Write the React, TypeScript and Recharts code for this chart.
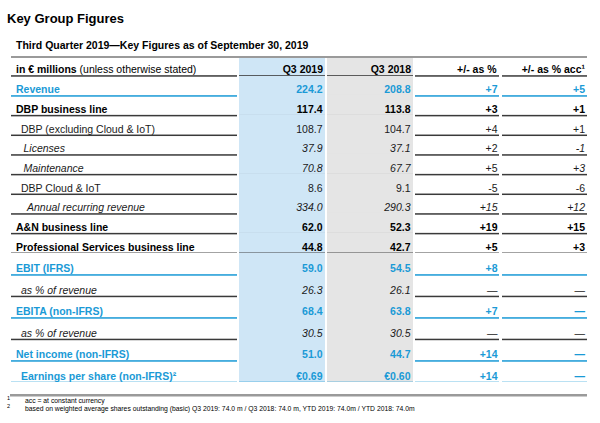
import React from "react";
import { BarChart, Bar, XAxis, YAxis } from "recharts";

// ---------- data ----------
const rowLabels = [
  "Revenue",
  "DBP business line",
  "DBP (excluding Cloud & IoT)",
  "Licenses",
  "Maintenance",
  "DBP Cloud & IoT",
  "Annual recurring revenue",
  "A&N business line",
  "Professional Services business line",
  "EBIT (IFRS)",
  "as % of revenue",
  "EBITA (non-IFRS)",
  "as % of revenue",
  "Net income (non-IFRS)",
  "Earnings per share (non-IFRS)²",
];
const q3_2019 = [224.2, 117.4, 108.7, 37.9, 70.8, 8.6, 334.0, 62.0, 44.8, 59.0, 26.3, 68.4, 30.5, 51.0, 0.69];
const q3_2018 = [208.8, 113.8, 104.7, 37.1, 67.7, 9.1, 290.3, 52.3, 42.7, 54.5, 26.1, 63.8, 30.5, 44.7, 0.6];
// null = "—" (not meaningful), "" = blank
const changePct = [7, 3, 4, 2, 5, -5, 15, 19, 5, 8, null, 7, null, 14, 14];
const changeAcc = [5, 1, 1, -1, 3, -6, 12, 15, 3, "", null, null, null, null, null];
const rowKinds = ["key", "line", "sub", "detail", "detail", "sub", "detail", "line", "line", "key", "detail", "key", "detail", "key", "key"];
const rowLevels = [0, 0, 1, 2, 2, 1, 3, 0, 0, 0, 1, 0, 1, 0, 1];
const rowUnits = ["m", "m", "m", "m", "m", "m", "m", "m", "m", "m", "%", "m", "%", "m", "€"];
const columnTitles = ["Q3 2019", "Q3 2018", "+/- as %", "+/- as % acc¹"];
const titleText = "Key Group Figures";
const subtitleText = "Third Quarter 2019—Key Figures as of September 30, 2019";
const headerBold = "in € millions";
const headerRest = " (unless otherwise stated)";
const footnoteMarks = ["1", "2"];
const footnotes = [
  "acc = at constant currency",
  "based on weighted average shares outstanding (basic) Q3 2019: 74.0 m / Q3 2018: 74.0 m, YTD 2019: 74.0m / YTD 2018: 74.0m",
];

// ---------- styles ----------
const FONT = "'Liberation Sans', Arial, Helvetica, sans-serif";
const BLUE = "#1a9ad6";
const BLUE_BG = "#cfe6f6";
const GRAY_BG = "#e5e5e5";
const DARK_LINE = "#3a3a3a";
const RULE = "#9a9a9a";
const FS = 10.5;

const COL = {
  label: [11, 237],
  q19: [239, 325],
  q18: [327, 413],
  pct: [415, 499],
  acc: [502, 587],
};
const INDENT = [16, 21, 23.5, 27];

const rows = rowLabels.map((label, i) => ({
  label,
  q2019: q3_2019[i],
  q2018: q3_2018[i],
  pct: changePct[i],
  acc: changeAcc[i],
  kind: rowKinds[i],
  level: rowLevels[i],
  unit: rowUnits[i],
}));

const fmtValue = (v: number, unit: string) => (unit === "€" ? "€" + v.toFixed(2) : v.toFixed(1));
const fmtChange = (v: any) => {
  if (v === "") return "";
  if (v === null || v === undefined) return "—";
  return v > 0 ? "+" + v : String(v);
};

const kindStyle = (kind: string) => {
  switch (kind) {
    case "key":
      return { color: BLUE, weight: 700, style: "normal", line: BLUE };
    case "line":
      return { color: "#000", weight: 700, style: "normal", line: DARK_LINE };
    case "sub":
      return { color: "#1a1a1a", weight: 400, style: "normal", line: DARK_LINE };
    default:
      return { color: "#1a1a1a", weight: 400, style: "italic", line: DARK_LINE };
  }
};

const RowShape = (props: any) => {
  const { y, height, payload } = props;
  if (y == null || height == null || !payload) return null;
  const bottom = y + height;
  const base = bottom - 2.6;
  const st = kindStyle(payload.kind);
  const cols = [COL.label, COL.q19, COL.q18, COL.pct, COL.acc];
  const txt = (x: number, s: string, anchor: string, extra: any = {}) => (
    <text
      x={x}
      y={base}
      textAnchor={anchor}
      fontFamily={FONT}
      fontSize={FS}
      fontWeight={st.weight}
      fontStyle={st.style}
      fill={st.color}
      {...extra}
    >
      {s}
    </text>
  );
  return (
    <g>
      <rect x={COL.q19[0]} y={y - 1} width={COL.q19[1] - COL.q19[0]} height={height + 2} fill={BLUE_BG} />
      <rect x={COL.q18[0]} y={y - 1} width={COL.q18[1] - COL.q18[0]} height={height + 2} fill={GRAY_BG} />
      {cols.map((c, i) => (
        <rect key={i} x={c[0]} y={bottom - 0.8} width={c[1] - c[0]} height={1.5} fill={st.line} />
      ))}
      {txt(INDENT[payload.level], payload.label, "start")}
      {txt(COL.q19[1] - 2.5, fmtValue(payload.q2019, payload.unit), "end")}
      {txt(COL.q18[1] - 2.5, fmtValue(payload.q2018, payload.unit), "end")}
      {txt(COL.pct[1] - 1.5, fmtChange(payload.pct), "end", payload.level === 2 ? { fontStyle: "normal" } : {})}
      {txt(COL.acc[1] - 2, fmtChange(payload.acc), "end")}
    </g>
  );
};

const TableBlock = ({ data, top, height }: { data: any[]; top: number; height: number }) => (
  <div style={{ position: "absolute", left: 0, top }}>
    <BarChart
      layout="vertical"
      width={600}
      height={height}
      data={data}
      margin={{ top: 0, right: 0, bottom: 0, left: 0 }}
      barCategoryGap={0}
      barGap={0}
    >
      <XAxis type="number" hide domain={[0, 600]} />
      <YAxis type="category" dataKey="label" hide />
      <Bar dataKey="q2019" isAnimationActive={false} shape={<RowShape />} />
    </BarChart>
  </div>
);

export default function App() {
  return (
    <div style={{ position: "absolute", left: 0, top: 0, width: 600, height: 423, background: "#fff" }}>
      <svg width={600} height={423} style={{ position: "absolute", left: 0, top: 0 }}>
        <text x={7} y={23} fontFamily={FONT} fontSize={13} fontWeight={700} fill="#000">
          {titleText}
        </text>
        <text x={16} y={49} fontFamily={FONT} fontSize={10.5} fontWeight={700} fill="#000">
          {subtitleText}
        </text>
        <rect x={11} y={56} width={576} height={2} fill={RULE} />
        <rect x={COL.q19[0]} y={58} width={COL.q19[1] - COL.q19[0]} height={19} fill={BLUE_BG} />
        <rect x={COL.q18[0]} y={58} width={COL.q18[1] - COL.q18[0]} height={19} fill={GRAY_BG} />
        <text x={16} y={73} fontFamily={FONT} fontSize={FS} fill="#000">
          <tspan fontWeight={700}>{headerBold}</tspan>
          <tspan>{headerRest}</tspan>
        </text>
        {[COL.q19, COL.q18, COL.pct, COL.acc].map((c, i) => (
          <text key={i} x={c[1] - (i === 2 ? 2.5 : 2)} y={73} textAnchor="end" fontFamily={FONT} fontSize={FS} fontWeight={700} fill="#000">
            {columnTitles[i]}
          </text>
        ))}
        {[COL.label, COL.q19, COL.q18, COL.pct, COL.acc].map((c, i) => (
          <rect key={i} x={c[0]} y={75.2} width={c[1] - c[0]} height={1.5} fill={DARK_LINE} />
        ))}
        <rect x={10} y={394} width={577} height={2.5} fill={RULE} />
        {footnotes.map((f, i) => (
          <g key={i}>
            <text x={7} y={400 + i * 8} fontFamily={FONT} fontSize={5.5} fill="#000">
              {footnoteMarks[i]}
            </text>
            <text x={25} y={403 + i * 8} fontFamily={FONT} fontSize={6.8} fill="#000">
              {f}
            </text>
          </g>
        ))}
      </svg>
      <TableBlock data={rows.slice(0, 9)} top={76} height={177} />
      <TableBlock data={rows.slice(9)} top={253} height={129} />
    </div>
  );
}
